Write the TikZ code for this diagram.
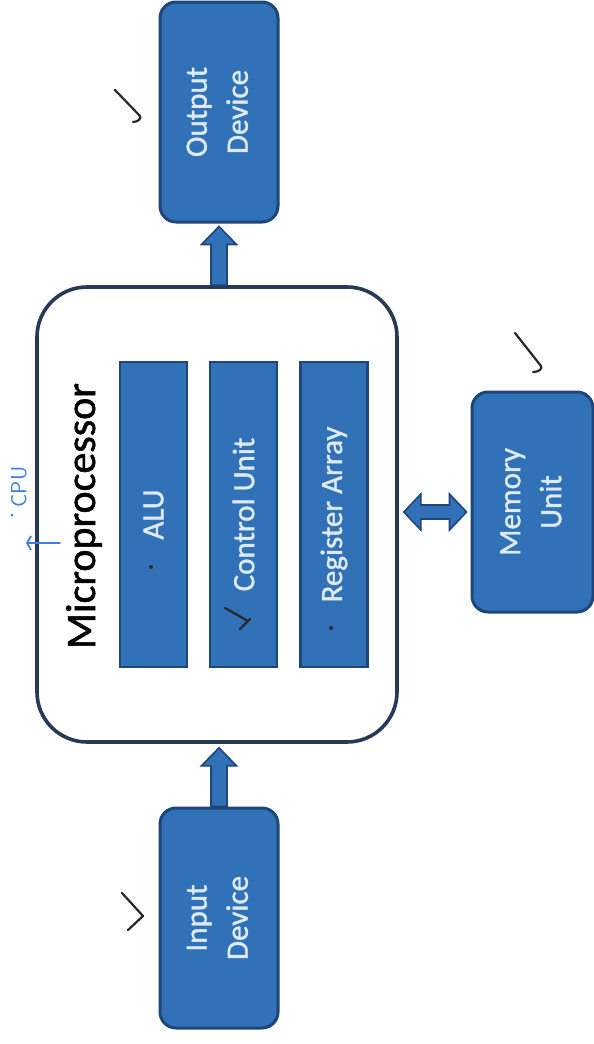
\documentclass[tikz,border=0pt]{standalone}
\usepackage{fontspec}
\setmainfont{Carlito}
\newfontfamily\heavyfont[FakeBold=1.2]{Carlito}
\usepackage{graphicx}
\usetikzlibrary{calc,arrows.meta}
\definecolor{boxblue}{RGB}{48,113,184}
\definecolor{boxedge}{RGB}{30,70,120}
\definecolor{boxtext}{RGB}{222,234,247}
\definecolor{frameedge}{RGB}{38,58,88}
\definecolor{penblue}{RGB}{62,124,232}
\definecolor{pen}{RGB}{40,40,40}
\tikzset{
  devbox/.style={draw=boxedge, line width=3pt, fill=boxblue, rounded corners=16pt,
    inner sep=0pt, text=boxtext, font=\heavyfont\fontsize{31}{41}\selectfont, align=center},
  barbox/.style={draw=boxedge, line width=2.6pt, fill=boxblue, inner sep=0pt,
    minimum width=67pt, minimum height=305pt, text=boxtext, font=\heavyfont\fontsize{31}{41}\selectfont},
  framebox/.style={draw=frameedge, line width=3.6pt, fill=white, rounded corners=50pt,
    inner sep=0pt, minimum width=360pt, minimum height=455pt},
  flowarrow/.style={fill=boxblue, draw=boxedge, line width=1.6pt, line join=miter},
  tick/.style={draw=pen, line width=2.2pt, line cap=round, line join=round},
  pendot/.style={circle, fill=pen, inner sep=0pt, minimum size=4pt},
}
\begin{document}
\begin{tikzpicture}[x=1pt,y=-1pt]
\useasboundingbox (0,0) rectangle (594,1044);
\fill[white] (0,0) rectangle (594,1044);

% main blocks
\node[devbox, minimum width=118pt, minimum height=220pt] (out) at (219,112)
  {\rotatebox{90}{\begin{tabular}{@{}c@{}}Output\\Device\end{tabular}}};
\node[framebox] (micro) at (217,514.5) {};
\node[devbox, minimum width=121pt, minimum height=220pt] (mem) at (532.5,502)
  {\rotatebox{90}{\begin{tabular}{@{}c@{}}Memory\\Unit\end{tabular}}};
\node[devbox, minimum width=118pt, minimum height=220pt] (inp) at (219,918)
  {\rotatebox{90}{\begin{tabular}{@{}c@{}}Input\\Device\end{tabular}}};

% inner bars
\node[barbox] (alu) at (153.5,514.5) {\rotatebox{90}{ALU}};
\node[barbox] (cu) at (243.5,514.5) {\rotatebox{90}{Control Unit}};
\node[barbox] (ra) at (334,514.5) {\rotatebox{90}{Register Array}};
\node[rotate=90, anchor=base, inner sep=0pt, font=\heavyfont\fontsize{42}{50}\selectfont, text=black]
  (mlabel) at (95,516) {Microprocessor};

% arrow micro -> output
\coordinate (ot) at ($(out.south)+(0,3)$);
\coordinate (ob) at (micro.north -| out.south);
\path[flowarrow] (ot) -- ($(ot)+(17.5,18)$) -- ($(ot)+(8,18)$) -- ($(ob)+(8,0)$)
  -- ($(ob)+(-8,0)$) -- ($(ot)+(-8,18)$) -- ($(ot)+(-17.5,18)$) -- cycle;

% arrow input -> micro
\coordinate (it) at ($(micro.south -| inp.north)+(0,4)$);
\coordinate (ib) at (inp.north);
\path[flowarrow] (it) -- ($(it)+(17.5,18)$) -- ($(it)+(8,18)$) -- ($(ib)+(8,0)$)
  -- ($(ib)+(-8,0)$) -- ($(it)+(-8,18)$) -- ($(it)+(-17.5,18)$) -- cycle;

% double arrow micro <-> memory
\coordinate (dl) at ($(micro.east)+(5,-2.5)$);
\coordinate (dr) at ($(mem.west |- dl)+(-4,0)$);
\path[flowarrow] (dl) -- ($(dl)+(17,-18)$) -- ($(dl)+(17,-7)$) -- ($(dr)+(-17,-7)$)
  -- ($(dr)+(-17,-18)$) -- (dr) -- ($(dr)+(-17,18)$) -- ($(dr)+(-17,7)$)
  -- ($(dl)+(17,7)$) -- ($(dl)+(17,18)$) -- cycle;

% handwritten marks
\path[tick] (115,90) -- (140,116) .. controls (142,119) and (137,122) .. (133,122);
\path[tick] (515,333) -- (541,366) .. controls (543,369) and (538,372) .. (533,372);
\path[tick] (122,893) -- (143,916) -- (128,930);
\path[tick] (225,608) -- (248,621);
\path[tick] (250,619) -- (240,629);
\node[pendot] (d1) at (151,567) {};
\node[pendot] (d2) at (331,628) {};

% blue CPU annotation
\node[rotate=90, text=penblue, font=\fontsize{22}{22}\selectfont\sffamily, inner sep=0pt]
  (cpu) at (19,487) {CPU};
\node[circle, fill=penblue, inner sep=0pt, minimum size=3pt] (cdot) at (12,515) {};
\coordinate (ca) at (60,543);
\coordinate (cb) at (26,543);
\draw[penblue, line width=1.8pt, line cap=round, -{Straight Barb[length=4pt,width=14pt]}] (ca) -- (cb);
\end{tikzpicture}
\end{document}
